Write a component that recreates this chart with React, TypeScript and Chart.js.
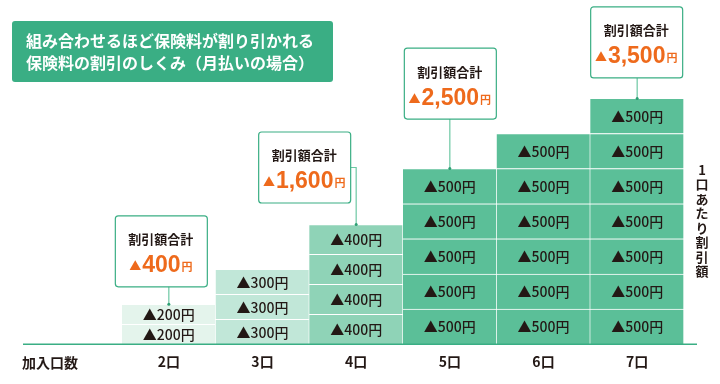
import React, { useEffect, useRef } from "react";
import { Chart, registerables } from "chart.js";

Chart.register(...registerables);

// ---- data ----
const categories = ["2口", "3口", "4口", "5口", "6口", "7口"];
const unitCounts = [2, 3, 4, 5, 6, 7];
const unitDiscounts = [200, 300, 400, 500, 500, 500];
// visual height of one block in the picture (chart units)
const blockHeights = [20, 25, 30, 35.2, 35.2, 35.2];
const calloutTotals: (number | null)[] = [400, null, 1600, 2500, null, 3500];
const titleLines = ["組み合わせるほど保険料が割り引かれる", "保険料の割引のしくみ（月払いの場合）"];
const axisTitle = "加入口数";
const sideTitle = "1口あたり割引額";
const calloutHeading = "割引額合計";

// ---- styles ----
const barColors = ["#e4f4ec", "#c1e7d8", "#8fd3b7", "#5bbf98", "#5bbf98", "#5bbf98"];
const GREEN = "#3aae84";
const ORANGE = "#ee6a1c";
const INK = "#231815";
const CJK = '"Noto Sans CJK JP", "Noto Sans", sans-serif';
const LATIN = '"Liberation Sans", Arial, sans-serif';
const calloutLayout: ({ dx: number; gap: number; elbow?: boolean } | null)[] = [
  { dx: -8, gap: 18 },
  null,
  { dx: -52, gap: 22, elbow: true },
  { dx: 0, gap: 50 },
  null,
  { dx: -1, gap: 21 },
];

const fmt = (n: number) => n.toLocaleString("en-US");

const decoPlugin = {
  id: "deco",
  afterDatasetsDraw(chart: any) {
    const ctx: CanvasRenderingContext2D = chart.ctx;
    const area = chart.chartArea;
    ctx.save();

    // segment labels
    ctx.textAlign = "center";
    ctx.textBaseline = "middle";
    ctx.fillStyle = INK;
    ctx.font = `500 14px ${CJK}`;
    chart.data.datasets.forEach((ds: any, di: number) => {
      const meta = chart.getDatasetMeta(di);
      meta.data.forEach((el: any, i: number) => {
        if (ds.data[i] == null) return;
        const p = el.getProps(["x", "y", "base"], true);
        ctx.fillText(`▲${unitDiscounts[i]}円`, p.x, (p.y + p.base) / 2 + 0.5);
      });
    });

    // axis line
    ctx.strokeStyle = GREEN;
    ctx.lineWidth = 1.5;
    ctx.beginPath();
    ctx.moveTo(area.left - 99, area.bottom);
    ctx.lineTo(area.right + 13, area.bottom);
    ctx.stroke();

    // axis title
    ctx.fillStyle = INK;
    ctx.font = `bold 14px ${CJK}`;
    ctx.fillText(axisTitle, area.left - 72, area.bottom + 18);

    // callouts
    calloutTotals.forEach((total, i) => {
      const lay = calloutLayout[i];
      if (total == null || !lay) return;
      const topMeta = chart.getDatasetMeta(unitCounts[i] - 1);
      const el = topMeta.data[i];
      const p = el.getProps(["x", "y"], true);
      const bw = 92;
      const bh = 71;
      const cx = p.x + lay.dx;
      const bottom = p.y - lay.gap;
      const top = bottom - bh;
      const left = cx - bw / 2;

      // connector
      ctx.strokeStyle = "#6cc7a3";
      ctx.lineWidth = 1.2;
      ctx.beginPath();
      if (lay.elbow) {
        const yy = top + 36;
        ctx.moveTo(left + bw, yy);
        ctx.lineTo(p.x, yy);
        ctx.lineTo(p.x, p.y);
      } else {
        ctx.moveTo(p.x, bottom);
        ctx.lineTo(p.x, p.y);
      }
      ctx.stroke();
      ctx.fillStyle = "#2e9f74";
      ctx.beginPath();
      ctx.arc(p.x, p.y, 1.5, 0, Math.PI * 2);
      ctx.fill();

      // box
      ctx.fillStyle = "#ffffff";
      ctx.strokeStyle = GREEN;
      ctx.lineWidth = 1.2;
      ctx.beginPath();
      (ctx as any).roundRect(left + 0.5, top + 0.5, bw, bh, 3);
      ctx.fill();
      ctx.stroke();

      // heading
      ctx.fillStyle = INK;
      ctx.textAlign = "center";
      ctx.textBaseline = "middle";
      ctx.font = `bold 13px ${CJK}`;
      ctx.fillText(calloutHeading, cx, top + 24);

      // amount
      const tri = "▲";
      const num = fmt(total);
      const yen = "円";
      const fTri = `12px ${CJK}`;
      const fNum = `bold 23px ${LATIN}`;
      const fYen = `bold 11px ${CJK}`;
      ctx.font = fTri;
      const wTri = ctx.measureText(tri).width;
      ctx.font = fNum;
      const wNum = ctx.measureText(num).width;
      ctx.font = fYen;
      const wYen = ctx.measureText(yen).width;
      const total_w = wTri + wNum + wYen + 2;
      let x = cx - total_w / 2;
      const base = top + 57;
      ctx.textAlign = "left";
      ctx.textBaseline = "alphabetic";
      ctx.fillStyle = ORANGE;
      ctx.font = fTri;
      ctx.fillText(tri, x, base - 1);
      x += wTri + 1;
      ctx.font = fNum;
      ctx.fillText(num, x, base);
      x += wNum + 1;
      ctx.font = fYen;
      ctx.fillText(yen, x, base - 1);
    });

    // title box
    ctx.fillStyle = GREEN;
    ctx.beginPath();
    (ctx as any).roundRect(12, 21, 321, 61, 3);
    ctx.fill();
    ctx.fillStyle = "#ffffff";
    ctx.textAlign = "center";
    ctx.textBaseline = "middle";
    ctx.font = `bold 16px ${CJK}`;
    ctx.fillText(titleLines[0], 170, 41);
    ctx.fillText(titleLines[1], 170, 63);

    // side vertical title
    ctx.fillStyle = INK;
    ctx.font = `bold 13px ${CJK}`;
    Array.from(sideTitle).forEach((ch, k) => {
      ctx.fillText(ch, area.right + 18, 170 + k * 14.5);
    });

    ctx.restore();
  },
};

export default function App() {
  const ref = useRef<HTMLCanvasElement | null>(null);
  useEffect(() => {
    document.body.style.margin = "0";
    if (!ref.current) return;
    const maxLevels = Math.max(...unitCounts);
    const datasets = Array.from({ length: maxLevels }, (_, lvl) => ({
      label: `level${lvl + 1}`,
      data: unitCounts.map((c, i) => (lvl < c ? blockHeights[i] : null)),
      backgroundColor: barColors,
      borderColor: "#ffffff",
      borderWidth: { top: 1, right: 1, bottom: 0, left: 0 },
      borderSkipped: false as const,
      categoryPercentage: 1,
      barPercentage: 1,
    }));
    const chart = new Chart(ref.current, {
      type: "bar",
      data: { labels: categories, datasets },
      options: {
        animation: false,
        responsive: true,
        maintainAspectRatio: false,
        layout: { padding: { left: 122, right: 36, top: 5, bottom: 5 } },
        plugins: { legend: { display: false }, tooltip: { enabled: false } },
        scales: {
          x: {
            stacked: true,
            grid: { display: false, drawTicks: false },
            border: { display: false },
            ticks: {
              color: INK,
              padding: 9,
              font: { family: CJK, size: 14, weight: "bold" },
            },
          },
          y: {
            stacked: true,
            display: false,
            min: 0,
            max: 340,
          },
        },
      },
      plugins: [decoPlugin],
    });
    return () => chart.destroy();
  }, []);
  return (
    <div style={{ width: 720, height: 384, position: "relative", background: "#fff" }}>
      <canvas ref={ref} />
    </div>
  );
}
